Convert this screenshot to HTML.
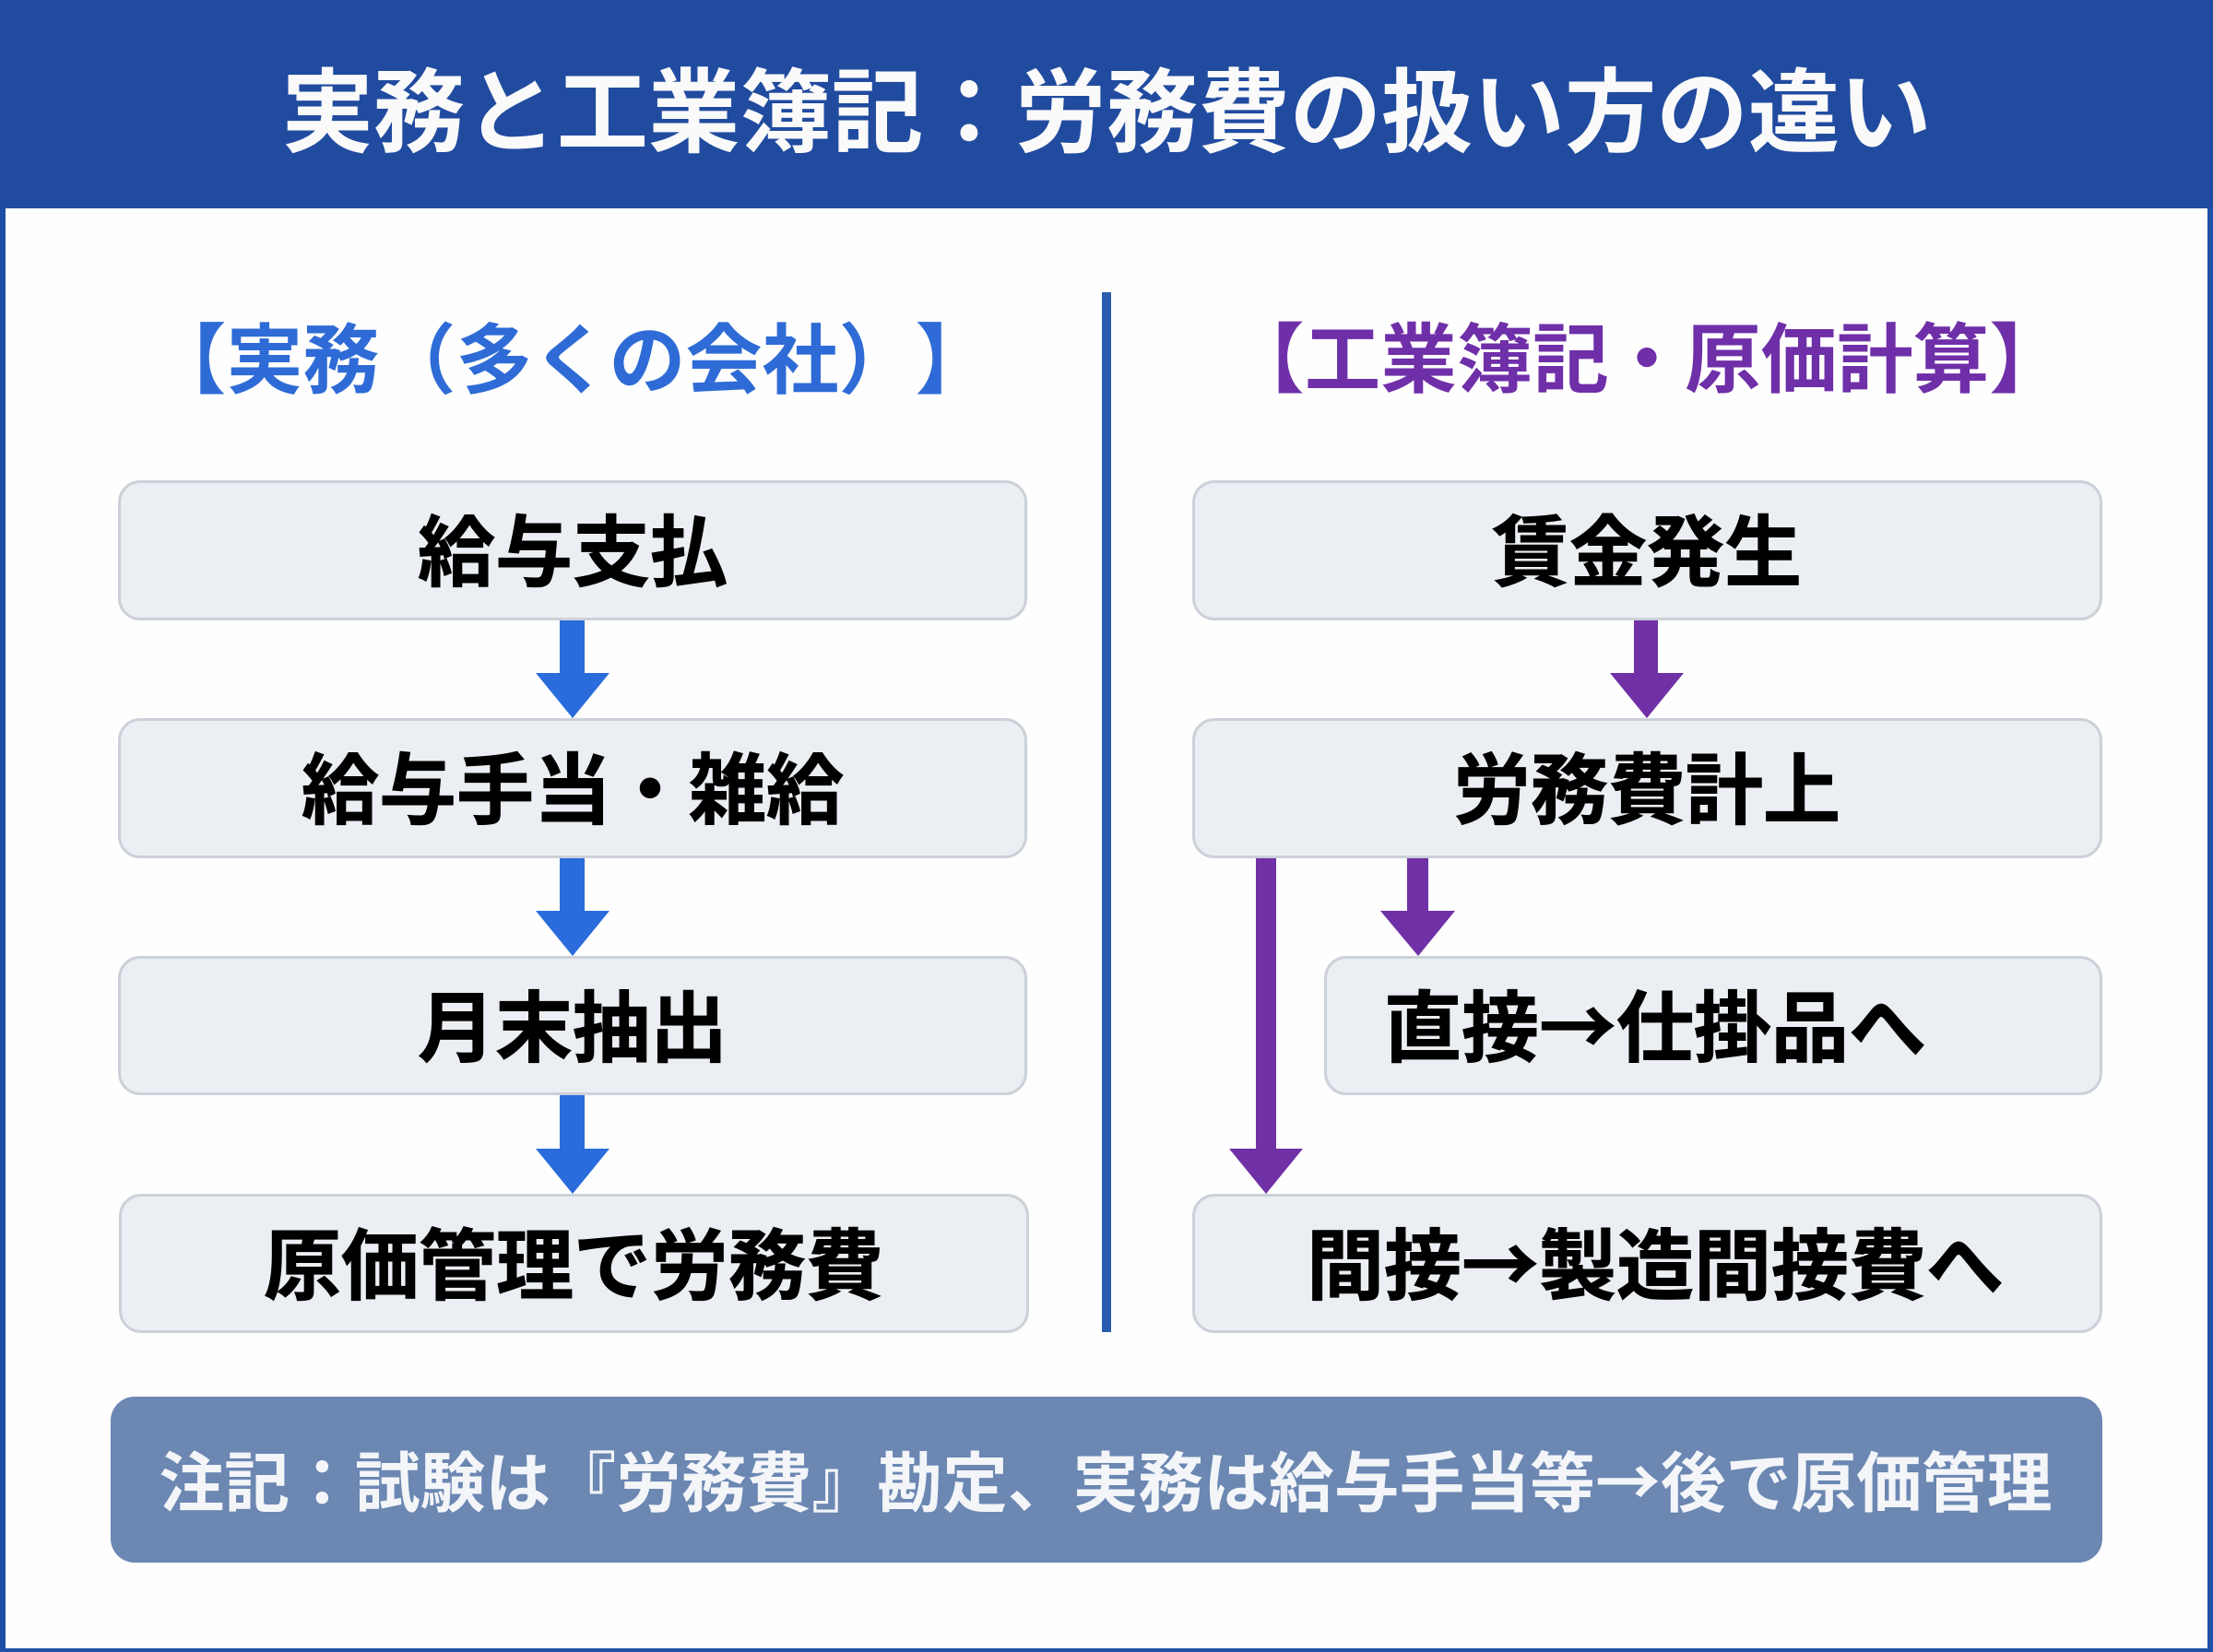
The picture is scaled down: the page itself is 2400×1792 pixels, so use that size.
<!DOCTYPE html>
<html lang="ja"><head><meta charset="utf-8">
<style>
html,body{margin:0;padding:0;width:2400px;height:1792px;overflow:hidden;background:#fefefe}
body{position:relative;font-family:"Liberation Sans","Noto Sans CJK JP",sans-serif;font-weight:700}
div{position:absolute;box-sizing:border-box}
.t{white-space:nowrap;text-align:center;font-family:"Noto Sans CJK JP",sans-serif;font-weight:700;transform:translateX(-50%);text-spacing-trim:space-all}
.b{background:#ebeef2;border:3px solid #ccd1d9;border-radius:24px}
.bt{font-size:84px;line-height:100px;color:#000;-webkit-text-stroke:1px #000}
</style></head><body>
<div style="left:0;top:0;width:2400px;height:1792px;border:6px solid #1f50a8;border-bottom-width:4px"></div>
<div style="left:0;top:0;width:2400px;height:226px;background:#214b9f"></div>
<div class="t" style="left:1200px;top:54px;font-size:99.4px;line-height:120px;color:#fafafa">実務と工業簿記：労務費の扱い方の違い</div>
<div style="left:1195px;top:317px;width:10px;height:1128px;background:#2a5db0"></div>

<div class="t" style="left:619px;top:334px;font-size:83px;line-height:100px;color:#2e6bd6">【実務（多くの会社）】</div>
<div class="t" style="left:1786px;top:333px;font-size:82.5px;line-height:100px;color:#6f2fa8">【工業簿記・原価計算】</div>

<div class="b" style="left:128px;top:521px;width:986px;height:152px"></div>
<div class="b" style="left:128px;top:779px;width:986px;height:152px"></div>
<div class="b" style="left:128px;top:1037px;width:986px;height:151px"></div>
<div class="b" style="left:129px;top:1295px;width:987px;height:151px"></div>

<div class="b" style="left:1293px;top:521px;width:987px;height:152px"></div>
<div class="b" style="left:1293px;top:779px;width:987px;height:152px"></div>
<div class="b" style="left:1436px;top:1037px;width:844px;height:151px"></div>
<div class="b" style="left:1293px;top:1295px;width:987px;height:151px"></div>

<svg style="position:absolute;left:0;top:0" width="2400" height="1792">
<g fill="#2a6cdc">
<path d="M607 673h27v57h27l-40 49-40-49h26z"/>
<path d="M607 931h27v57h27l-40 49-40-49h26z"/>
<path d="M607 1188h27v58h27l-40 49-40-49h26z"/>
</g>
<g fill="#7030a6">
<path d="M1772 673h26v57h28l-40 49-40-49h26z"/>
<path d="M1526 931h23v57h29l-40 49-41-49h29z"/>
<path d="M1362 931h22v315h29l-40 49-40-49h29z"/>
</g>
</svg>

<div class="t bt" style="left:621px;top:544px">給与支払</div>
<div class="t bt" style="left:621px;top:802px">給与手当・雑給</div>
<div class="t bt" style="left:621px;top:1060px">月末抽出</div>
<div class="t bt" style="left:622px;top:1318px">原価管理で労務費</div>

<div class="t bt" style="left:1786px;top:544px">賃金発生</div>
<div class="t bt" style="left:1786px;top:802px">労務費計上</div>
<div class="t bt" style="left:1795px;top:1060px">直接→仕掛品へ</div>
<div class="t bt" style="left:1795px;top:1318px">間接→製造間接費へ</div>

<div style="left:120px;top:1515px;width:2160px;height:180px;background:#6b87b2;border-radius:26px"></div>
<div class="t" style="left:1199px;top:1561px;font-size:70.8px;line-height:86px;color:#f3f5f8">注記：試験は『労務費』勘定、実務は給与手当等→後で原価管理</div>
</body></html>
